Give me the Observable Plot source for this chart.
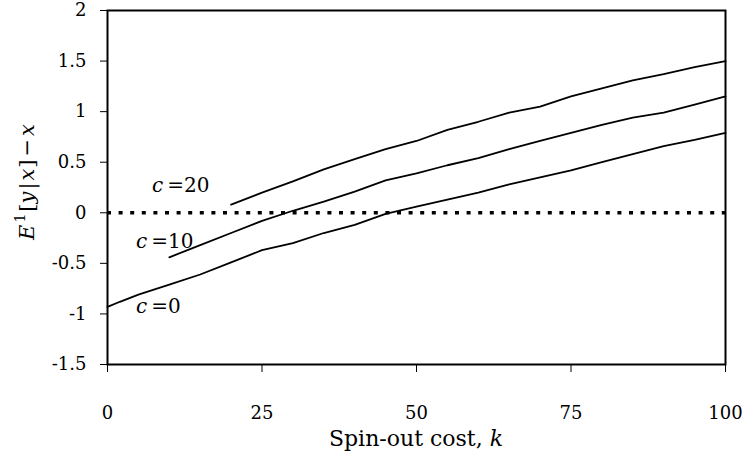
<!DOCTYPE html>
<html>
<head>
<meta charset="utf-8">
<script src="https://cdn.jsdelivr.net/npm/d3@7"></script>
<script src="https://cdn.jsdelivr.net/npm/@observablehq/plot@0.6"></script>
<style>
  html, body { margin: 0; padding: 0; background: #fff; }
  #chart svg { display: block; }
</style>
</head>
<body>
<div id="chart"></div>
<script>
// ---- data ----
const k0 = [0, 2, 5, 10, 15, 20, 25, 30, 35, 40, 45, 50, 55, 60, 65, 70, 75, 80, 85, 90, 95, 100];
const y0 = [-0.93, -0.88, -0.81, -0.71, -0.61, -0.49, -0.37, -0.30, -0.20, -0.12, -0.01, 0.06, 0.13, 0.20, 0.28, 0.35, 0.42, 0.50, 0.58, 0.66, 0.72, 0.79];
const k10 = [10, 15, 20, 25, 30, 35, 40, 45, 50, 55, 60, 65, 70, 75, 80, 85, 90, 95, 100];
const y10 = [-0.44, -0.32, -0.20, -0.08, 0.02, 0.11, 0.21, 0.32, 0.39, 0.47, 0.54, 0.63, 0.71, 0.79, 0.87, 0.94, 0.99, 1.07, 1.15];
const k20 = [20, 25, 30, 35, 40, 45, 50, 55, 60, 65, 70, 75, 80, 85, 90, 95, 100];
const y20 = [0.08, 0.20, 0.31, 0.43, 0.53, 0.63, 0.71, 0.82, 0.90, 0.99, 1.05, 1.15, 1.23, 1.31, 1.37, 1.44, 1.50];
const seriesNames = ["0", "10", "20"];
// inline label anchors (k, value) for each series
const labelK = [4.7, 4.7, 7.3];
const labelY = [-0.93, -0.28, 0.27];
const xTicks = [0, 25, 50, 75, 100];
const yTicks = [-1.5, -1, -0.5, 0, 0.5, 1, 1.5, 2];
const xTitle = "Spin-out cost, ";

const rows = [];
[[k0, y0], [k10, y10], [k20, y20]].forEach(([ks, ys], i) => {
  ks.forEach((k, j) => rows.push({c: seriesNames[i], k, v: ys[j]}));
});

const FONT = "'DejaVu Serif', 'Liberation Serif', serif";

const plot = Plot.plot({
  width: 743,
  height: 458,
  marginLeft: 107,
  marginRight: 18,
  marginTop: 10,
  marginBottom: 94,
  style: {fontFamily: FONT, fontSize: "17px", color: "black", background: "white", overflow: "visible"},
  x: {domain: [0, 100], label: null},
  y: {domain: [-1.5, 2], label: null},
  marks: [
    Plot.ruleY([0], {stroke: "black", strokeWidth: 3.5, strokeDasharray: "4,7.6"}),
    Plot.line(rows, {x: "k", y: "v", z: "c", stroke: "black", strokeWidth: 1.8, curve: "linear"}),
    Plot.frame({stroke: "black", strokeWidth: 2}),
    Plot.axisX({ticks: xTicks, tickSize: 8, tickPadding: 34, tickFormat: d => String(d), fontSize: 18, label: null}),
    Plot.axisY({ticks: yTicks, tickSize: 7, tickPadding: 14, tickFormat: d => String(d), fontSize: 18, label: null})
  ]
});
document.getElementById("chart").appendChild(plot);

const svg = d3.select(plot);
const sx = plot.scale("x"), sy = plot.scale("y");

// inline series labels
seriesNames.forEach((name, i) => {
  const t = svg.append("text")
    .attr("x", sx.apply(labelK[i]))
    .attr("y", sy.apply(labelY[i]))
    .attr("dy", "0.35em")
    .attr("text-anchor", "start")
    .attr("font-family", FONT)
    .attr("font-size", 20)
    .attr("fill", "black");
  t.append("tspan").attr("font-style", "italic").text("c");
  t.append("tspan").attr("dx", 4).text("=" + name);
});

// x axis title
const xt = svg.append("text")
  .attr("x", (sx.apply(0) + sx.apply(100)) / 2)
  .attr("y", 446)
  .attr("text-anchor", "middle")
  .attr("font-family", FONT)
  .attr("font-size", 22)
  .attr("fill", "black");
xt.append("tspan").text(xTitle);
xt.append("tspan").attr("font-style", "italic").text("k");

// y axis title
const yt = svg.append("text")
  .attr("transform", "translate(34,182) rotate(-90)")
  .attr("text-anchor", "middle")
  .attr("font-family", FONT)
  .attr("font-size", 21)
  .attr("fill", "black");
yt.append("tspan").attr("font-style", "italic").text("E");
yt.append("tspan").attr("font-size", 14).attr("dy", -9).attr("dx", 2).text("1");
yt.append("tspan").attr("dy", 9).attr("dx", 2).text("[");
yt.append("tspan").attr("font-style", "italic").text("y");
yt.append("tspan").attr("dx", 2).text("|");
yt.append("tspan").attr("dx", 2).attr("font-style", "italic").text("x");
yt.append("tspan").attr("dx", 1).text("]");
yt.append("tspan").attr("dx", 3).text("\u2212");
yt.append("tspan").attr("dx", 3).attr("font-style", "italic").text("x");
</script>
</body>
</html>
